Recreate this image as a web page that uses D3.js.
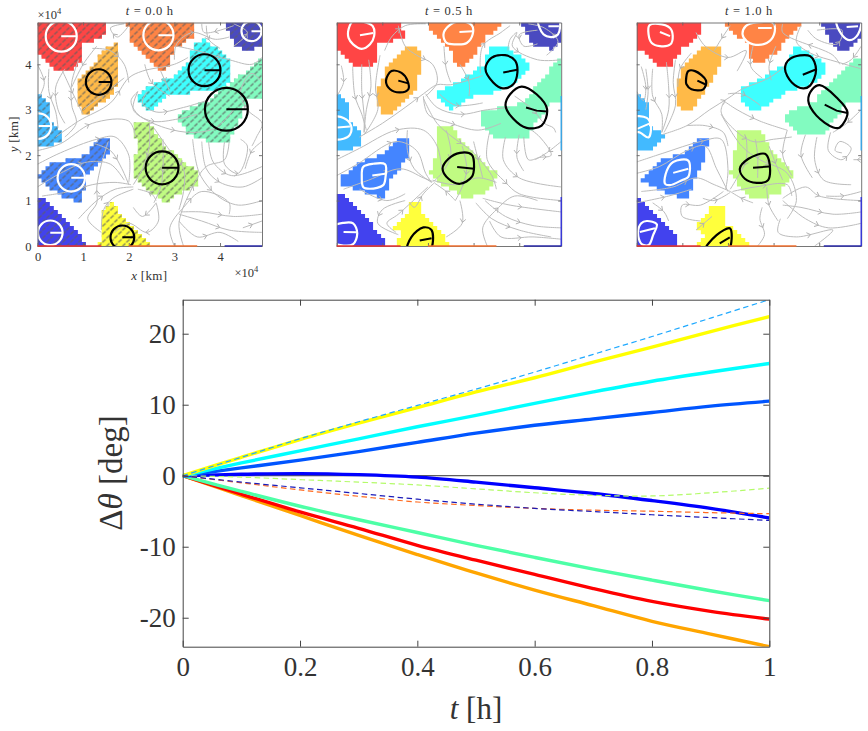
<!DOCTYPE html>
<html>
<head>
<meta charset="utf-8">
<script src="https://cdn.jsdelivr.net/npm/d3@7"></script>
<style>
html,body{margin:0;padding:0;background:#fff}
svg{display:block}
text{font-family:"Liberation Serif",serif;fill:#333}
</style>
</head>
<body>
<div id="chart"></div>
<script>
// Angle change series, degrees, sampled every 0.1 h
const timeHours = [0,0.1,0.2,0.3,0.4,0.5,0.6,0.7,0.8,0.9,1];
const deltaSky    = [0,2.6,5.2,7.6,9.9,12.2,14.6,17.1,19.6,22.2,24.79];
const deltaYellow = [0,2.6,5.1,7.4,9.6,11.8,13.8,16,18.1,20.3,22.4];
const deltaCyan   = [0,1.8,3.5,5.2,6.9,8.5,10.2,11.8,13.3,14.6,15.8];
const deltaAzure  = [0,1.1,2.2,3.4,4.7,6.0,7.1,8.0,8.9,9.8,10.5];
const deltaBlue   = [0,0.2,0.3,0.15,-0.2,-0.9,-1.7,-2.5,-3.5,-4.6,-5.95];
const deltaLime   = [0,-0.2,-0.55,-0.9,-1.3,-1.85,-2.4,-2.75,-2.85,-2.4,-1.75];
const deltaNavy   = [0,-0.9,-1.7,-2.5,-3.3,-4.0,-4.6,-5.05,-5.5,-5.9,-6.3];
const deltaCoral  = [0,-1.0,-2.0,-2.9,-3.7,-4.2,-4.6,-4.85,-5.0,-5.2,-5.35];
const deltaMint   = [0,-2.2,-4.3,-6.2,-8,-9.8,-11.5,-13.15,-14.7,-16.2,-17.6];
const deltaRed    = [0,-2.6,-5.1,-7.4,-9.8,-11.9,-13.9,-15.9,-17.7,-19.1,-20.2];
const deltaAmber  = [0,-2.8,-5.6,-8.4,-11.1,-13.7,-16.1,-18.3,-20.5,-22.3,-24.08];

const dashedSeries = [
  {values: deltaSky,   color: "#1fa9ff"},
  {values: deltaLime,  color: "#b4fb6a"},
  {values: deltaCoral, color: "#ff6a1f"},
  {values: deltaNavy,  color: "#1a1ab8"}
];
const solidSeries = [
  {values: deltaAmber,  color: "#ffa500"},
  {values: deltaRed,    color: "#ff0000"},
  {values: deltaMint,   color: "#4dffa6"},
  {values: deltaBlue,   color: "#0000ff"},
  {values: deltaAzure,  color: "#0055ff"},
  {values: deltaCyan,   color: "#00ffff"},
  {values: deltaYellow, color: "#ffff00"}
];
const angleTicks = [-20,-10,0,10,20];
const timeTicks = [0,0.2,0.4,0.6,0.8,1];

// Snapshot panels: positions in units of 10^4 km
const domainExtent = 4.92;
const gridCells = 56;
const panelTicks = [0,1,2,3,4];
const snapshotTimes = ["0.0","0.5","1.0"];
const vortexNames = ["red","orange","navy","amber","cyan","mint","sky","lime","azure","blue","yellow"];
const regionColors = {red:"#ff4545",orange:"#ff8445",navy:"#4a4ac0",amber:"#ffba48",cyan:"#3effff",mint:"#82fbc0",sky:"#42baff",lime:"#c0fb82",azure:"#4485ff",blue:"#4242ee",yellow:"#ffff3c"};
const contourColors = {red:"#fff",orange:"#fff",navy:"#fff",amber:"#000",cyan:"#000",mint:"#000",sky:"#fff",lime:"#000",azure:"#fff",blue:"#fff",yellow:"#000"};

const regionsStart = {
  red:[[0,4.92],[1.45,4.92],[1.45,4.66],[.9,4.44],[.9,4.11],[.68,3.85],[.42,3.85],[.09,4.22],[0,4.44]],
  orange:[[1.99,4.92],[3.42,4.92],[3.42,4.66],[2.98,4.37],[2.83,4.0],[2.69,3.85],[2.39,4.22],[2.1,4.5]],
  navy:[[4.15,4.92],[4.92,4.92],[4.92,4.47],[4.62,4.33],[4.33,4.44]],
  amber:[[1.5,4.33],[1.74,4.42],[1.74,3.71],[1.59,3.34],[1.0,2.91],[.9,3.27],[.9,3.56],[1.37,4.14]],
  cyan:[[3.49,4.47],[3.67,4.51],[4.22,4.04],[4.22,3.74],[4.0,3.47],[3.42,3.42],[2.76,3.31],[2.47,3.01],[2.19,3.27],[2.39,3.45],[3.05,3.74],[3.34,4.07]],
  mint:[[4.92,4.15],[4.92,3.31],[4.58,3.31],[4.47,2.98],[4.15,2.28],[3.85,2.28],[3.34,2.5],[3.12,2.76],[3.16,2.94],[3.85,3.2],[4.15,3.49],[4.66,3.85]],
  sky:[[0,3.31],[.24,3.12],[.28,2.69],[.53,2.39],[.28,2.21],[0,2.18]],
  lime:[[2.12,2.72],[2.39,2.69],[2.76,2.18],[3.12,1.88],[3.49,1.59],[3.49,1.41],[3.05,1.19],[2.83,.97],[2.39,1.3],[2.12,1.59],[2.21,2.25]],
  azure:[[1.37,2.36],[1.55,2.36],[1.55,2.1],[1.0,1.52],[.97,.97],[.6,1.12],[.28,1.3],[.06,1.52],[.35,1.81],[1.08,1.96]],
  blue:[[0,1.08],[.17,.97],[.9,.24],[1.0,0],[0,0]],
  yellow:[[1.66,.97],[1.74,.72],[2.47,0],[1.37,0],[1.45,.35],[1.45,.72]]
};
const regionsMiddle = {
  red:[[0,4.92],[1.35,4.92],[1.45,4.62],[.84,4.47],[.84,4.15],[.69,3.96],[.44,3.96],[.07,4.37],[0,4.51]],
  orange:[[2.01,4.92],[3.58,4.92],[3.28,4.66],[3.03,4.29],[2.74,3.96],[2.63,4.0],[2.52,4.37],[2.12,4.74]],
  navy:[[4.1,4.92],[4.92,4.92],[4.92,4.66],[4.74,4.37],[4.31,4.44]],
  amber:[[1.55,4.4],[1.82,4.29],[1.82,4.0],[1.68,3.45],[1.17,2.94],[.99,2.94],[.88,3.27],[1.13,3.93]],
  cyan:[[3.39,4.4],[3.65,4.4],[4.2,4.0],[3.94,3.64],[3.43,3.42],[2.92,3.31],[2.52,3.04],[2.19,3.34],[2.77,3.64],[3.28,4.0]],
  mint:[[4.92,4.15],[4.92,3.23],[4.71,3.23],[4.31,2.69],[4.16,2.39],[3.5,2.39],[3.21,2.69],[3.21,2.94],[4.09,3.12],[4.6,3.71]],
  sky:[[0,3.31],[.22,3.12],[.26,2.69],[.51,2.5],[.51,2.28],[.22,2.1],[0,2.1]],
  lime:[[2.19,2.63],[2.52,2.58],[2.85,2.1],[3.47,1.59],[3.28,1.23],[2.88,1.08],[2.45,1.3],[2.08,1.63],[2.19,1.96]],
  azure:[[1.35,2.36],[1.55,2.36],[1.55,1.96],[1.09,1.48],[1.06,1.08],[.58,1.23],[.15,1.37],[.15,1.52],[.55,1.81],[1.09,2.03]],
  blue:[[0,1.08],[.15,1.08],[1.02,.13],[1.02,0],[0,0]],
  yellow:[[1.64,.97],[1.82,.97],[1.82,.72],[2.48,0],[1.35,0],[1.42,.35],[1.26,.35],[1.57,.64]]
};
const regionsEnd = {
  red:[[0,4.92],[1.35,4.92],[1.35,4.66],[.95,4.37],[.73,4.0],[.55,3.96],[.07,4.37],[0,4.44]],
  orange:[[1.99,4.92],[3.58,4.92],[3.28,4.58],[3.03,4.29],[2.7,4.04],[2.48,4.15],[2.45,4.51],[2.12,4.74]],
  navy:[[4.1,4.92],[4.92,4.92],[4.92,4.66],[4.6,4.29],[4.31,4.47]],
  amber:[[1.55,4.4],[1.81,4.4],[1.81,4.0],[1.46,3.42],[1.17,3.01],[.99,3.01],[.88,3.34],[.99,3.85]],
  cyan:[[3.49,4.4],[4.01,4.04],[4.12,3.93],[3.94,3.67],[3.28,3.42],[2.63,3.01],[2.45,3.05],[2.28,3.23],[2.28,3.42],[2.7,3.64],[3.36,4.04]],
  mint:[[4.92,4.15],[4.92,3.23],[4.6,3.23],[4.31,2.83],[4.09,2.47],[3.58,2.48],[3.3,2.8],[3.32,2.91],[3.94,3.16],[4.31,3.64]],
  sky:[[0,3.31],[.22,3.12],[.29,2.58],[.6,2.43],[.36,2.21],[.15,2.1],[0,2.1]],
  lime:[[2.19,2.5],[2.7,2.54],[2.92,2.1],[3.39,1.59],[3.07,1.15],[2.55,1.08],[2.08,1.59],[2.19,2.1]],
  azure:[[1.35,2.36],[1.53,2.36],[1.46,1.96],[1.06,1.08],[.73,1.19],[.15,1.48],[.58,1.88],[1.09,2.03]],
  blue:[[0,1.08],[.88,.2],[.88,0],[0,0]],
  yellow:[[1.64,.88],[1.9,.88],[1.9,.5],[2.45,.02],[2.45,0],[1.35,0],[1.57,.28],[1.28,.39],[1.57,.64]]
};

// Initial circular material contours: centre x, centre y, radius
const circlesStart = {
  red:[.52,4.62,.34],orange:[2.65,4.64,.33],navy:[4.69,4.73,.22],amber:[1.34,3.61,.28],
  cyan:[3.66,3.87,.35],mint:[4.14,3.01,.47],sky:[.02,2.64,.28],lime:[2.73,1.72,.36],
  azure:[.74,1.5,.3],blue:[.28,.29,.27],yellow:[1.86,.19,.26]
};
const contoursMiddle = {
  red:[[.26,4.77],[.36,4.95],[.58,4.94],[.79,4.84],[.82,4.62],[.73,4.44],[.55,4.34],[.36,4.44],[.26,4.58]],
  orange:[[2.34,4.66],[2.45,4.84],[2.7,4.95],[2.96,4.86],[2.98,4.66],[2.85,4.47],[2.63,4.44],[2.41,4.47]],
  navy:[[4.42,4.98],[4.53,4.66],[4.71,4.6],[4.85,4.66],[4.87,4.98]],
  amber:[[1.08,3.64],[1.2,3.85],[1.42,3.81],[1.55,3.64],[1.57,3.45],[1.39,3.38],[1.17,3.45]],
  cyan:[[3.26,3.9],[3.39,4.14],[3.69,4.2],[3.91,4.08],[3.96,3.82],[3.87,3.56],[3.64,3.47],[3.43,3.6]],
  mint:[[3.7,3.09],[3.8,3.34],[4.05,3.51],[4.38,3.34],[4.61,3.01],[4.49,2.65],[4.16,2.6],[3.87,2.8]],
  sky:[[-.1,2.83],[.15,2.82],[.31,2.66],[.29,2.45],[.15,2.36],[-.1,2.38]],
  lime:[[2.32,1.7],[2.45,1.92],[2.7,2.05],[2.96,2.01],[3.01,1.74],[2.96,1.52],[2.7,1.37],[2.45,1.48]],
  azure:[[.55,1.52],[.58,1.74],[.8,1.81],[1.06,1.8],[1.07,1.52],[1.02,1.34],[.73,1.26],[.58,1.3]],
  blue:[[-.1,.42],[.15,.51],[.36,.5],[.45,.28],[.36,.04],[.15,.01],[-.1,.09]],
  yellow:[[1.55,-.1],[1.64,.2],[1.9,.41],[2.08,.35],[2.04,-.1]]
};
const spokesMiddle = {
  red:[[.51,4.64],[.8,4.69]],orange:[[2.69,4.71],[2.98,4.73]],navy:[[4.64,4.84],[4.87,4.84]],
  amber:[[1.35,3.64],[1.57,3.58]],cyan:[[3.65,3.82],[3.96,3.88]],mint:[[4.15,3.05],[4.38,2.98],[4.61,2.96]],
  sky:[[.01,2.61],[.29,2.63]],lime:[[2.64,1.74],[3.01,1.7]],azure:[[.78,1.55],[1.06,1.59]],
  blue:[[.15,.31],[.44,.3]],yellow:[[1.82,.12],[2.08,.17]]
};
const contoursEnd = {
  red:[[.26,4.66],[.28,4.86],[.47,4.89],[.73,4.8],[.79,4.62],[.74,4.44],[.51,4.4],[.33,4.47]],
  orange:[[2.32,4.66],[2.39,4.84],[2.63,4.92],[3.0,4.9],[3.01,4.66],[2.85,4.47],[2.55,4.44],[2.41,4.51]],
  navy:[[4.38,4.98],[4.49,4.66],[4.67,4.53],[4.85,4.66],[4.9,4.98]],
  amber:[[1.08,3.64],[1.13,3.85],[1.28,3.85],[1.52,3.64],[1.46,3.45],[1.2,3.45],[1.09,3.56]],
  cyan:[[3.25,3.9],[3.36,4.12],[3.8,4.18],[3.93,3.88],[3.8,3.53],[3.65,3.47],[3.4,3.6]],
  mint:[[3.76,3.2],[3.85,3.45],[4.01,3.54],[4.38,3.27],[4.62,2.94],[4.45,2.61],[4.31,2.61],[3.94,2.87]],
  sky:[[-.1,2.83],[.22,2.82],[.31,2.65],[.26,2.39],[.07,2.5],[-.1,2.54]],
  lime:[[2.26,1.7],[2.45,1.92],[2.81,2.03],[2.9,1.88],[2.88,1.45],[2.63,1.39],[2.37,1.48]],
  azure:[[.62,1.37],[.66,1.66],[.8,1.85],[1.13,1.88],[1.13,1.52],[.99,1.45],[.73,1.34]],
  blue:[[.03,.3],[.1,.5],[.22,.55],[.44,.48],[.36,.24],[.26,.02],[.1,.05]],
  yellow:[[1.5,-.1],[1.75,.24],[2.04,.39],[2.08,.28],[2.0,-.1]]
};
const spokesEnd = {
  red:[[.51,4.71],[.73,4.62]],orange:[[2.66,4.8],[2.96,4.8]],navy:[[4.6,4.82],[4.85,4.84]],
  amber:[[1.33,3.64],[1.5,3.56]],cyan:[[3.64,3.77],[3.91,3.88]],mint:[[4.12,3.11],[4.38,2.98],[4.62,2.93]],
  sky:[[.01,2.58],[.29,2.7]],lime:[[2.55,1.72],[2.9,1.75]],azure:[[.8,1.61],[1.13,1.7]],
  blue:[[.07,.31],[.4,.39]],yellow:[[1.82,.06],[2.04,.19]]
};

// Velocity streamlines at each snapshot, listed along the flow direction
const streamStart = [
 [[0,3.99],[.15,3.6],[.05,3.3]],[[.6,3.9],[.4,3.5],[.45,3.0],[.6,2.7]],[[.9,4.1],[.75,3.6],[.75,3.1],[.85,2.7],[.6,2.4]],
 [[1.3,4.4],[1.0,4.0],[.75,3.5]],[[2.0,4.85],[1.75,4.6],[1.6,4.8],[1.9,4.89]],[[1.2,4.35],[1.6,4.3],[1.9,4.0],[2.0,3.6]],
 [[0,2.1],[.5,2.25],[1.2,2.7],[2.0,2.75],[2.15,2.4]],[[.4,2.4],[.9,2.75],[1.6,3.15],[2.0,3.7],[2.3,3.85],[3.0,4.0],[3.3,4.15]],
 [[2.2,3.4],[2.05,3.2],[2.2,2.9],[2.8,2.6],[3.4,2.5],[3.9,2.6],[4.3,3.0]],[[2.2,3.4],[2.1,3.0],[2.5,2.75],[3.1,2.8],[3.5,2.9]],
 [[2.4,3.4],[2.3,3.15],[2.6,2.95],[3.2,3.05],[3.7,3.2]],[[0,1.8],[.5,2.05],[1.3,2.35],[1.7,2.4],[2.0,2.0],[2.0,1.4]],
 [[0,1.3],[.5,1.6],[1.1,1.85],[1.6,1.8],[1.9,1.45]],[[.1,1.1],[.7,1.2],[1.2,1.35],[1.7,1.4],[2.05,1.35]],
 [[.9,.6],[1.3,1.0],[1.7,1.25],[2.1,1.3]],[[1.4,.3],[1.1,.6],[1.3,.95],[1.3,1.3],[1.4,1.8],[1.55,2.3]],
 [[1.4,.35],[1.45,.8],[1.65,1.05],[2.1,1.25]],[[2.6,.95],[2.65,.55],[2.4,.3],[2.0,.5],[1.7,.3]],[[2.6,1.0],[2.5,1.15],[2.2,1.25]],
 [[3.2,0],[3.1,.5],[3.4,1.3],[3.7,1.75],[4.1,1.9],[4.2,2.3]],[[3.0,0],[2.9,.4],[3.2,.85],[3.6,1.2],[4.2,.95],[4.2,.7]],
 [[3.1,.7],[3.6,.55],[4.2,.35],[4.92,.3]],[[3.1,.55],[3.5,.2],[4.0,.3],[4.4,.1]],[[3.15,.75],[3.6,.75],[4.3,.65],[4.92,.7]],
 [[3.4,2.35],[3.55,1.6],[3.95,1.1],[4.4,.9],[4.92,1.0]],[[3.6,2.3],[3.7,1.7],[4.0,1.4],[4.5,1.3],[4.92,1.5]],
 [[4.1,2.3],[4.1,1.8],[4.4,1.6],[4.6,2.2],[4.45,2.35]],[[4.7,2.2],[4.8,2.4],[4.92,2.7],[4.6,3.0],[4.45,3.4],[4.7,3.8],[4.92,3.6]],
 [[3.0,4.1],[3.05,4.45],[3.4,4.7],[3.9,4.55],[4.2,4.6]],[[3.05,4.4],[3.5,4.3],[4.2,4.1],[4.7,4.0],[4.92,4.15]],
 [[3.7,4.85],[3.75,4.55],[4.0,4.35]],[[4.3,4.85],[3.65,4.7],[3.6,4.89]],[[2.55,2.6],[2.9,2.1],[3.2,1.7],[3.2,1.2],[3.1,.8]],
 [[2.35,4.0],[2.5,3.6],[2.9,3.3]],[[2.7,3.85],[2.9,3.4]],[[.55,3.85],[.85,3.2],[1.0,2.9]],[[1.0,3.0],[1.45,3.35],[1.9,3.7]],
 [[.25,3.9],[.25,3.4],[.4,2.95],[.45,2.6]],[[1.25,2.25],[1.6,2.1],[1.85,1.7],[2.0,1.35]],[[2.45,2.7],[2.45,2.2],[2.3,1.7],[2.1,1.35]],
 [[2.75,2.35],[2.75,1.7],[2.7,1.3],[2.55,.95]],[[3.75,2.3],[3.85,1.85],[4.25,1.55],[4.92,1.75]],[[2.6,.95],[2.3,.65],[2.1,.85]],
 [[4.5,.4],[4.92,.55]],[[4.92,2.3],[4.7,2.1],[4.55,1.7]],[[4.3,4.4],[4.6,4.7],[4.3,4.89]]
];
const streamMiddle = [
 [[.1,3.97],[.15,3.6],[0,3.3]],[[.35,3.95],[.4,3.3],[.55,2.9],[.65,2.55]],[[.7,4.1],[.75,3.5],[.65,3.0],[.6,2.5]],
 [[.95,4.2],[.85,3.5],[.9,3.0],[.6,2.45]],[[1.35,4.85],[1.5,4.4],[1.75,4.2],[2.1,4.0],[2.2,3.6],[1.95,3.3]],
 [[.5,2.4],[1.0,2.7],[1.5,3.05],[1.9,3.35],[2.2,3.55],[2.5,3.55],[3.2,3.75]],[[0,1.9],[.5,2.15],[1.3,2.55],[1.9,2.55],[2.2,2.2],[2.3,1.7]],
 [[0,1.55],[.45,1.8],[1.3,2.3],[1.75,2.1],[1.95,1.6],[2.08,1.4]],[[.15,1.25],[.7,1.45],[1.4,1.7],[1.9,1.5],[2.1,1.42]],
 [[.5,1.25],[1.1,1.0],[1.5,1.15]],[[1.9,3.3],[2.0,2.9],[2.5,2.7],[3.1,2.55],[3.6,2.7]],[[1.95,3.35],[2.2,3.05],[2.7,2.9],[3.3,3.0],[3.8,3.05]],
 [[2.25,3.35],[2.6,3.1],[3.2,3.15]],[[1.9,3.25],[2.2,2.7],[2.6,2.35],[2.95,2.1],[3.4,1.55],[3.5,1.25]],[[2.1,1.45],[2.6,1.35],[3.1,1.5],[3.5,1.4]],
 [[2.6,1.0],[2.4,1.2],[2.15,1.38]],[[2.7,1.0],[2.75,.5],[2.4,.2]],[[1.5,1.0],[1.0,.8],[.9,.5],[1.35,.25]],[[1.3,.3],[1.1,.5],[1.35,.7],[2.0,1.3]],
 [[1.6,.95],[1.7,.85],[1.9,1.15],[2.15,1.4]],[[3.05,.95],[3.4,.6],[4.0,.35],[4.7,.2]],[[3.3,0],[3.2,.4],[3.5,.8],[3.9,1.1],[4.4,1.0]],
 [[3.25,1.0],[3.7,.65],[4.3,.45],[4.92,.4]],[[3.2,1.05],[3.8,.9],[4.92,.75]],[[3.35,2.5],[3.3,1.9],[3.7,1.4],[4.0,1.15],[4.92,1.0]],
 [[3.7,2.4],[3.65,1.9],[4.0,1.5],[4.92,1.3]],[[4.1,2.4],[4.2,1.9],[4.45,1.95],[4.7,2.0],[4.45,2.4],[4.2,2.6]],[[3.9,3.3],[4.3,3.0],[4.55,2.7],[4.75,2.6],[4.8,2.5]],
 [[3.75,4.3],[3.8,4.55],[3.95,4.7],[3.85,4.4],[4.4,4.1],[4.92,4.1]],[[3.15,3.8],[3.2,4.4],[3.6,4.7],[3.8,4.85]],[[4.4,4.75],[4.0,4.65],[4.1,4.4],[4.4,4.45]],
 [[2.35,4.4],[2.4,3.9],[2.5,3.6]],[[2.7,4.0],[2.9,3.6],[2.9,3.3]],[[4.92,2.3],[4.6,2.05],[4.35,1.9]],
 [[.55,4.0],[.55,3.4],[.6,2.9],[.6,2.5]],[[1.05,4.3],[1.2,4.6],[1.5,4.85],[1.95,4.89]],[[1.55,2.55],[1.55,2.1],[1.7,1.7],[2.08,1.4]],
 [[2.4,2.55],[2.5,2.0],[2.3,1.6],[2.12,1.42]],[[2.75,2.2],[2.85,1.7],[2.75,1.3],[2.6,1.0]],[[3.0,2.3],[3.1,1.9],[3.2,1.5]],
 [[3.35,.55],[3.6,.2],[4.3,.2],[4.92,.15]],[[4.6,4.2],[4.85,4.5],[4.55,4.8],[4.2,4.89]],[[4.0,2.45],[3.95,1.95],[4.1,1.65]]
];
const streamEnd = [
 [[.1,3.95],[.2,3.5],[.15,3.2],[0,3.4]],[[.35,3.9],[.35,3.3],[.55,2.9],[.55,2.5]],[[.65,4.05],[.7,3.5],[.7,3.0],[.55,2.5]],
 [[.85,4.1],[.8,3.6],[.85,3.1],[.6,2.5]],[[1.3,4.7],[1.5,4.4],[2.0,4.15],[2.4,4.3],[2.2,3.85]],[[1.2,4.25],[.95,3.9],[.9,3.5]],
 [[.55,2.45],[1.1,2.65],[1.6,3.0],[2.0,3.25],[2.3,3.45],[2.9,3.7],[3.3,4.0]],[[1.1,2.65],[1.5,2.65],[1.9,2.5],[2.0,2.2]],
 [[0,1.85],[.6,2.05],[1.4,2.3],[1.85,2.35],[2.0,1.7],[1.95,1.25]],[[0,1.6],[.5,1.75],[1.1,2.1],[1.5,2.2],[1.75,1.7],[2.0,1.2]],
 [[.1,1.2],[.8,1.3],[1.3,1.5],[1.7,1.35],[2.05,1.2]],[[0,.95],[.7,1.1],[1.2,1.25]],[[1.9,3.15],[1.85,2.95],[2.1,2.6],[2.55,2.3],[3.0,2.35],[3.4,2.4]],
 [[1.9,3.2],[2.2,3.0],[2.7,2.75],[3.3,2.55]],[[2.0,3.35],[2.3,3.35],[2.7,3.1]],[[1.85,2.9],[2.3,2.2],[2.7,1.9],[3.3,1.6],[3.5,1.0],[3.3,.6]],
 [[2.6,2.35],[2.65,2.0],[2.65,1.5]],[[2.4,2.4],[2.4,1.9],[2.2,1.5],[2.05,1.25]],[[2.1,1.2],[2.6,1.3],[3.3,1.35],[3.4,1.1]],[[2.75,.85],[2.7,.6],[2.8,.25],[2.65,0]],
 [[2.55,.95],[2.3,1.05],[2.05,1.2]],[[1.4,.55],[1.0,.65],[1.0,.9],[1.4,.9],[1.9,1.2]],[[1.3,.35],[1.65,.65]],[[1.45,1.05],[1.7,1.0],[2.05,1.18]],
 [[3.2,1.0],[3.7,.6],[4.2,.4],[4.92,.5]],[[3.2,1.05],[3.7,1.3],[4.0,1.1],[4.92,1.0]],[[3.15,.6],[3.1,.3],[3.5,.2],[4.3,.35],[3.9,0]],[[3.2,.9],[3.6,.85],[4.3,.7],[4.92,.75]],
 [[3.3,2.55],[3.2,2.0],[3.4,1.55]],[[3.7,2.45],[3.6,2.0],[3.85,1.5]],[[3.95,2.4],[3.9,1.9],[4.1,1.45],[4.7,1.35]],
 [[4.25,2.5],[4.2,2.1],[4.5,1.9],[4.7,2.15],[4.45,2.3],[4.35,2.1],[4.5,2.05]],[[4.92,1.9],[4.75,1.9]],[[3.6,4.85],[3.5,4.5],[3.8,4.25],[4.4,4.05],[4.92,3.9]],
 [[3.75,4.75],[3.95,4.55],[4.4,4.45],[4.5,4.75],[3.95,4.75]],[[2.55,4.4],[2.5,3.95],[2.75,3.7]],[[3.05,4.4],[2.9,3.95],[2.95,3.65]],[[4.45,4.0],[4.3,4.2],[3.2,4.7],[3.2,4.89]],
 [[2.9,2.2],[3.05,1.8],[3.2,1.45]],[[2.85,1.3],[2.9,.9],[3.1,.55]],[[4.15,1.1],[4.5,1.1],[4.92,1.2]],[[4.92,3.0],[4.6,2.7],[4.3,2.5]],[[.2,3.9],[.25,3.4],[.2,3.0]],
 [[2.05,4.85],[1.85,4.55],[1.7,4.3]],[[4.92,4.4],[4.7,4.1],[4.5,4.0]],[[.35,.95],[.6,.75],[.7,.55]]
];

// Periodic images of the vortices seen along the domain edges: from, to, region
const bottomEdgeRuns = [[0,1.4,"#e83030"],[2,3.5,"#f07030"],[4.1,4.92,"#2a2aa8"]];
const rightEdgeRuns = [[0,1.08,"#2a2ae0"],[2.1,3.3,"#30a8f0"]];

const svg = d3.select("#chart").append("svg").attr("width",868).attr("height",731);
const defs = svg.append("defs");

// Dashed diagonal hatching used on the initial tracer regions
const hatch = defs.append("pattern").attr("id","hatch").attr("patternUnits","userSpaceOnUse")
  .attr("width",8).attr("height",8);
hatch.append("line").attr("x1",0.8).attr("y1",3.8).attr("x2",4.2).attr("y2",0.8);
hatch.append("line").attr("x1",4.8).attr("y1",7.8).attr("x2",8).attr("y2",5);
hatch.selectAll("line").attr("stroke","#5f5f5f").attr("stroke-width",1.1);

const panelWidth = 224.5, panelTop = 22.5, panelHeight = 223.5;
const panelLefts = [37.5, 336.7, 636.7];
const panels = [
  {regions:regionsStart, streams:streamStart, hatched:true},
  {regions:regionsMiddle, streams:streamMiddle, contours:contoursMiddle, spokes:spokesMiddle},
  {regions:regionsEnd, streams:streamEnd, contours:contoursEnd, spokes:spokesEnd}
];

function drawPanel(panel, i) {
  const x = d3.scaleLinear().domain([0,domainExtent]).range([0,panelWidth]);
  const y = d3.scaleLinear().domain([0,domainExtent]).range([panelHeight,0]);
  const g = svg.append("g").attr("transform",`translate(${panelLefts[i]},${panelTop})`);
  defs.append("clipPath").attr("id",`clip${i}`).append("rect").attr("width",panelWidth).attr("height",panelHeight);
  const body = g.append("g").attr("clip-path",`url(#clip${i})`);

  // Tracer regions rasterised on the model grid; a cell is filled when its
  // centre or a point near a corner falls inside the outline
  const step = domainExtent / gridCells;
  const centres = d3.range(gridCells).map(k => (k + 0.5) * step);
  const probes = [[0,0],[.3,.3],[-.3,.3],[.3,-.3],[-.3,-.3]];
  vortexNames.forEach(name => {
    const polygon = panel.regions[name];
    let d = "";
    centres.forEach(cx => centres.forEach(cy => {
      if (probes.some(([a,b]) => d3.polygonContains(polygon,[cx+a*step,cy+b*step]))) {
        const px = x(cx-step/2), py = y(cy+step/2), w = x(step)+0.3, h = y(0)-y(step)+0.3;
        d += `M${px},${py}h${w}v${h}h${-w}z`;
      }
    }));
    body.append("path").attr("d",d).attr("fill",regionColors[name]);
    if (panel.hatched) body.append("path").attr("d",d).attr("fill","url(#hatch)");
  });

  // Streamlines with a chevron at mid-length
  const streamline = d3.line().x(p=>x(p[0])).y(p=>y(p[1])).curve(d3.curveCatmullRom.alpha(0.5));
  panel.streams.forEach(points => {
    const path = body.append("path").attr("d",streamline(points)).attr("fill","none")
      .attr("stroke","#bcbcbc").attr("stroke-width",1);
    const node = path.node(), len = node.getTotalLength();
    const a = node.getPointAtLength(len*0.5), b = node.getPointAtLength(len*0.5-2);
    const angle = Math.atan2(a.y-b.y,a.x-b.x)*180/Math.PI;
    body.append("path").attr("d","M-3.5,-2.8L0,0L-3.5,2.8").attr("fill","none")
      .attr("stroke","#b0b0b0").attr("stroke-width",0.9)
      .attr("transform",`translate(${a.x},${a.y}) rotate(${angle})`);
  });

  // Material contours and their spokes
  const closed = d3.line().x(p=>x(p[0])).y(p=>y(p[1])).curve(d3.curveCatmullRomClosed.alpha(0.5));
  const open = d3.line().x(p=>x(p[0])).y(p=>y(p[1]));
  vortexNames.forEach(name => {
    const color = contourColors[name];
    if (panel.contours) {
      body.append("path").attr("d",closed(panel.contours[name])).attr("fill","none")
        .attr("stroke",color).attr("stroke-width",2.2);
      body.append("path").attr("d",open(panel.spokes[name])).attr("fill","none")
        .attr("stroke",color).attr("stroke-width",2);
    } else {
      const [cx,cy,r] = circlesStart[name];
      body.append("circle").attr("cx",x(cx)).attr("cy",y(cy)).attr("r",x(r))
        .attr("fill","none").attr("stroke",color).attr("stroke-width",2.2);
      body.append("path").attr("d",open([[cx,cy],[cx+r,cy]])).attr("fill","none")
        .attr("stroke",color).attr("stroke-width",2);
    }
  });

  // Frame and tick marks
  const none = () => "";
  const labelled = i === 0;
  const axes = [
    [d3.axisBottom(x),`translate(0,${panelHeight})`,labelled?d3.format("d"):none],
    [d3.axisTop(x),"",none],
    [d3.axisLeft(y),"",labelled?d3.format("d"):none],
    [d3.axisRight(y),`translate(${panelWidth},0)`,none]
  ];
  axes.forEach(([axis,tr,fmt]) => {
    const a = g.append("g").attr("transform",tr)
      .call(axis.tickValues(panelTicks).tickSizeInner(-3).tickSizeOuter(0).tickPadding(6).tickFormat(fmt));
    a.selectAll("path,line").attr("stroke","#666").attr("stroke-width",0.9);
    a.selectAll("text").attr("font-size",12.5).attr("font-family","Liberation Serif").attr("fill","#444");
  });

  bottomEdgeRuns.forEach(([a,b,c]) => g.append("line").attr("x1",x(a)).attr("x2",x(b))
    .attr("y1",panelHeight).attr("y2",panelHeight).attr("stroke",c).attr("stroke-width",1.3));
  if (i > 0) rightEdgeRuns.forEach(([a,b,c]) => g.append("line").attr("x1",panelWidth).attr("x2",panelWidth)
    .attr("y1",y(a)).attr("y2",y(b)).attr("stroke",c).attr("stroke-width",1.3));

  // Title
  const title = g.append("text").attr("x",panelWidth/2).attr("y",-7.5).attr("text-anchor","middle")
    .attr("font-size",12.5).attr("letter-spacing",0.7).attr("fill","#444");
  title.append("tspan").attr("font-style","italic").text("t");
  title.append("tspan").text(` = ${snapshotTimes[i]} h`);

  if (labelled) {
    const exponent = (tx,ty) => {
      const t = g.append("text").attr("x",tx).attr("y",ty).attr("font-size",12.5).attr("fill","#444");
      t.append("tspan").text("×10");
      t.append("tspan").attr("font-size",8.5).attr("dy",-4.5).text("4");
    };
    exponent(0,-4);
    exponent(197,254);
    const xl = g.append("text").attr("x",panelWidth/2-0.5).attr("y",257).attr("text-anchor","middle")
      .attr("font-size",13).attr("letter-spacing",0.3).attr("fill","#444");
    xl.append("tspan").attr("font-style","italic").text("x");
    xl.append("tspan").text(" [km]");
    const yl = g.append("text").attr("transform",`translate(-19.5,${panelHeight/2}) rotate(-90)`)
      .attr("text-anchor","middle").attr("font-size",13).attr("letter-spacing",0.3).attr("fill","#444");
    yl.append("tspan").attr("font-style","italic").text("y");
    yl.append("tspan").text(" [km]");
  }
}
panels.forEach(drawPanel);

// Angle-change chart
const mainLeft = 182.7, mainRight = 769.3, mainTop = 299.7, mainBottom = 646.7;
const tScale = d3.scaleLinear().domain([0,1]).range([mainLeft,mainRight]);
const angleScale = d3.scaleLinear().domain([-24.08,24.79]).range([mainBottom,mainTop]);
defs.append("clipPath").attr("id","mainClip").append("rect")
  .attr("x",mainLeft).attr("y",mainTop).attr("width",mainRight-mainLeft).attr("height",mainBottom-mainTop);
const plot = svg.append("g").attr("clip-path","url(#mainClip)");
const trace = d3.line().x((v,k)=>tScale(timeHours[k])).y(v=>angleScale(v)).curve(d3.curveCatmullRom.alpha(0.5));

plot.append("line").attr("x1",mainLeft).attr("x2",mainRight)
  .attr("y1",angleScale(0)).attr("y2",angleScale(0)).attr("stroke","#333").attr("stroke-width",1);
solidSeries.forEach(s => plot.append("path").attr("d",trace(s.values)).attr("fill","none")
  .attr("stroke",s.color).attr("stroke-width",3.4));
dashedSeries.forEach(s => plot.append("path").attr("d",trace(s.values)).attr("fill","none")
  .attr("stroke",s.color).attr("stroke-width",1.2).attr("stroke-dasharray","5.5,3.5"));

const mainFormat = d => String(d);
const mainAxes = [
  [d3.axisBottom(tScale).tickValues(timeTicks).tickFormat(mainFormat),`translate(0,${mainBottom})`],
  [d3.axisTop(tScale).tickValues(timeTicks).tickFormat(()=>""),`translate(0,${mainTop})`],
  [d3.axisLeft(angleScale).tickValues(angleTicks).tickFormat(mainFormat),`translate(${mainLeft},0)`],
  [d3.axisRight(angleScale).tickValues(angleTicks).tickFormat(()=>""),`translate(${mainRight},0)`]
];
mainAxes.forEach(([axis,tr],k) => {
  const a = svg.append("g").attr("transform",tr)
    .call(axis.tickSizeInner(-6).tickSizeOuter(0).tickPadding(k===0?10:7));
  a.selectAll("path,line").attr("stroke","#444").attr("stroke-width",1);
  a.selectAll("text").attr("font-size",27).attr("font-family","Liberation Serif").attr("fill","#333");
});

const tLabel = svg.append("text").attr("x",476).attr("y",719).attr("text-anchor","middle").attr("font-size",31);
tLabel.append("tspan").attr("font-style","italic").text("t");
tLabel.append("tspan").text("  [h]");
const dLabel = svg.append("text").attr("transform","translate(122,473) rotate(-90)")
  .attr("text-anchor","middle").attr("font-size",33);
dLabel.append("tspan").text("Δ");
dLabel.append("tspan").attr("font-style","italic").text("θ");
dLabel.append("tspan").text(" [deg]");
</script>
</body>
</html>
